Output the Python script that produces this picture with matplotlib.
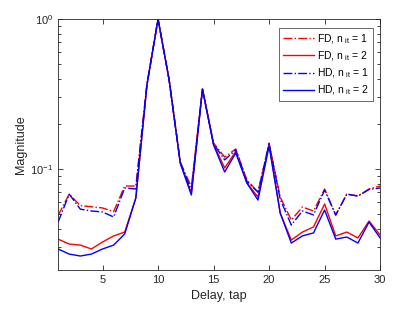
import numpy as np
import matplotlib
matplotlib.use("Agg")
import matplotlib.pyplot as plt
from matplotlib.ticker import LogLocator, NullFormatter

plt.rcParams['font.family'] = ['Liberation Sans', 'DejaVu Sans']
plt.rcParams['mathtext.fontset'] = 'custom'
plt.rcParams['mathtext.rm'] = 'Liberation Sans'
plt.rcParams['mathtext.it'] = 'Liberation Sans'

# delay taps
taps = np.arange(1, 31)

# magnitudes
fd_1 = [0.049, 0.068, 0.057, 0.056, 0.055, 0.052, 0.077, 0.077, 0.369, 1.0,
        0.392, 0.111, 0.076, 0.341, 0.149, 0.120, 0.136, 0.0845, 0.070, 0.149,
        0.065, 0.0457, 0.0558, 0.0525, 0.0736, 0.0493, 0.0681, 0.0661, 0.0736, 0.077]
fd_2 = [0.0341, 0.0316, 0.0311, 0.0293, 0.0326, 0.0358, 0.0380, 0.0641, 0.363, 1.0,
        0.392, 0.111, 0.069, 0.341, 0.146, 0.1016, 0.131, 0.0807, 0.0651, 0.146,
        0.0509, 0.0336, 0.038, 0.0411, 0.0585, 0.0358, 0.038, 0.0347, 0.045, 0.0363]
hd_1 = [0.0443, 0.068, 0.054, 0.0525, 0.0517, 0.0479, 0.0747, 0.0736, 0.363, 1.0,
        0.392, 0.111, 0.072, 0.341, 0.147, 0.115, 0.134, 0.083, 0.070, 0.147,
        0.063, 0.0423, 0.0525, 0.0494, 0.0724, 0.0493, 0.068, 0.066, 0.073, 0.0747]
hd_2 = [0.0293, 0.0271, 0.0263, 0.0271, 0.0293, 0.0311, 0.0369, 0.0641, 0.363, 1.0,
        0.392, 0.109, 0.0671, 0.341, 0.1445, 0.0955, 0.128, 0.0807, 0.0621, 0.1424,
        0.0509, 0.0321, 0.0358, 0.0375, 0.0533, 0.0341, 0.0352, 0.0321, 0.0443, 0.0347]

fig = plt.figure(figsize=(4.15, 3.09), dpi=100)
ax = fig.add_axes([0.140, 0.126, 0.776, 0.8125])

lw = 1.0
ax.semilogy(taps, fd_1, color='r', ls='-.', lw=lw, label=r'FD, n$_{\rm \ it}$ = 1')
ax.semilogy(taps, fd_2, color='r', ls='-', lw=lw, label=r'FD, n$_{\rm \ it}$ = 2')
ax.semilogy(taps, hd_1, color='b', ls='-.', lw=lw, label=r'HD, n$_{\rm \ it}$ = 1')
ax.semilogy(taps, hd_2, color='b', ls='-', lw=lw, label=r'HD, n$_{\rm \ it}$ = 2')

ax.set_xlim(1, 30)
ax.set_ylim(0.0212, 1)
ax.set_xticks([5, 10, 15, 20, 25, 30])
ax.yaxis.set_major_locator(LogLocator(base=10, numticks=10))
ax.yaxis.set_minor_locator(LogLocator(base=10, subs=np.arange(2, 10), numticks=20))
ax.yaxis.set_minor_formatter(NullFormatter())

gray = '#262626'
for s in ax.spines.values():
    s.set_color(gray)
    s.set_linewidth(0.6)
ax.tick_params(which='both', direction='in', top=True, right=True,
               colors=gray, labelsize=8, width=0.6)
ax.tick_params(which='major', length=3.5)
ax.tick_params(which='minor', length=2)

ax.set_xlabel('Delay, tap', fontsize=9, color=gray, labelpad=4)
ax.set_ylabel('Magnitude', fontsize=9, color=gray, labelpad=2)

leg = ax.legend(loc='upper right', fontsize=7.5, frameon=True, fancybox=False,
                edgecolor=gray, bbox_to_anchor=(0.978, 0.965), borderaxespad=0,
                handlelength=3.0, handletextpad=0.3, labelspacing=0.35,
                borderpad=0.4)
leg.get_frame().set_linewidth(0.6)

fig.savefig('out.png', dpi=100)
